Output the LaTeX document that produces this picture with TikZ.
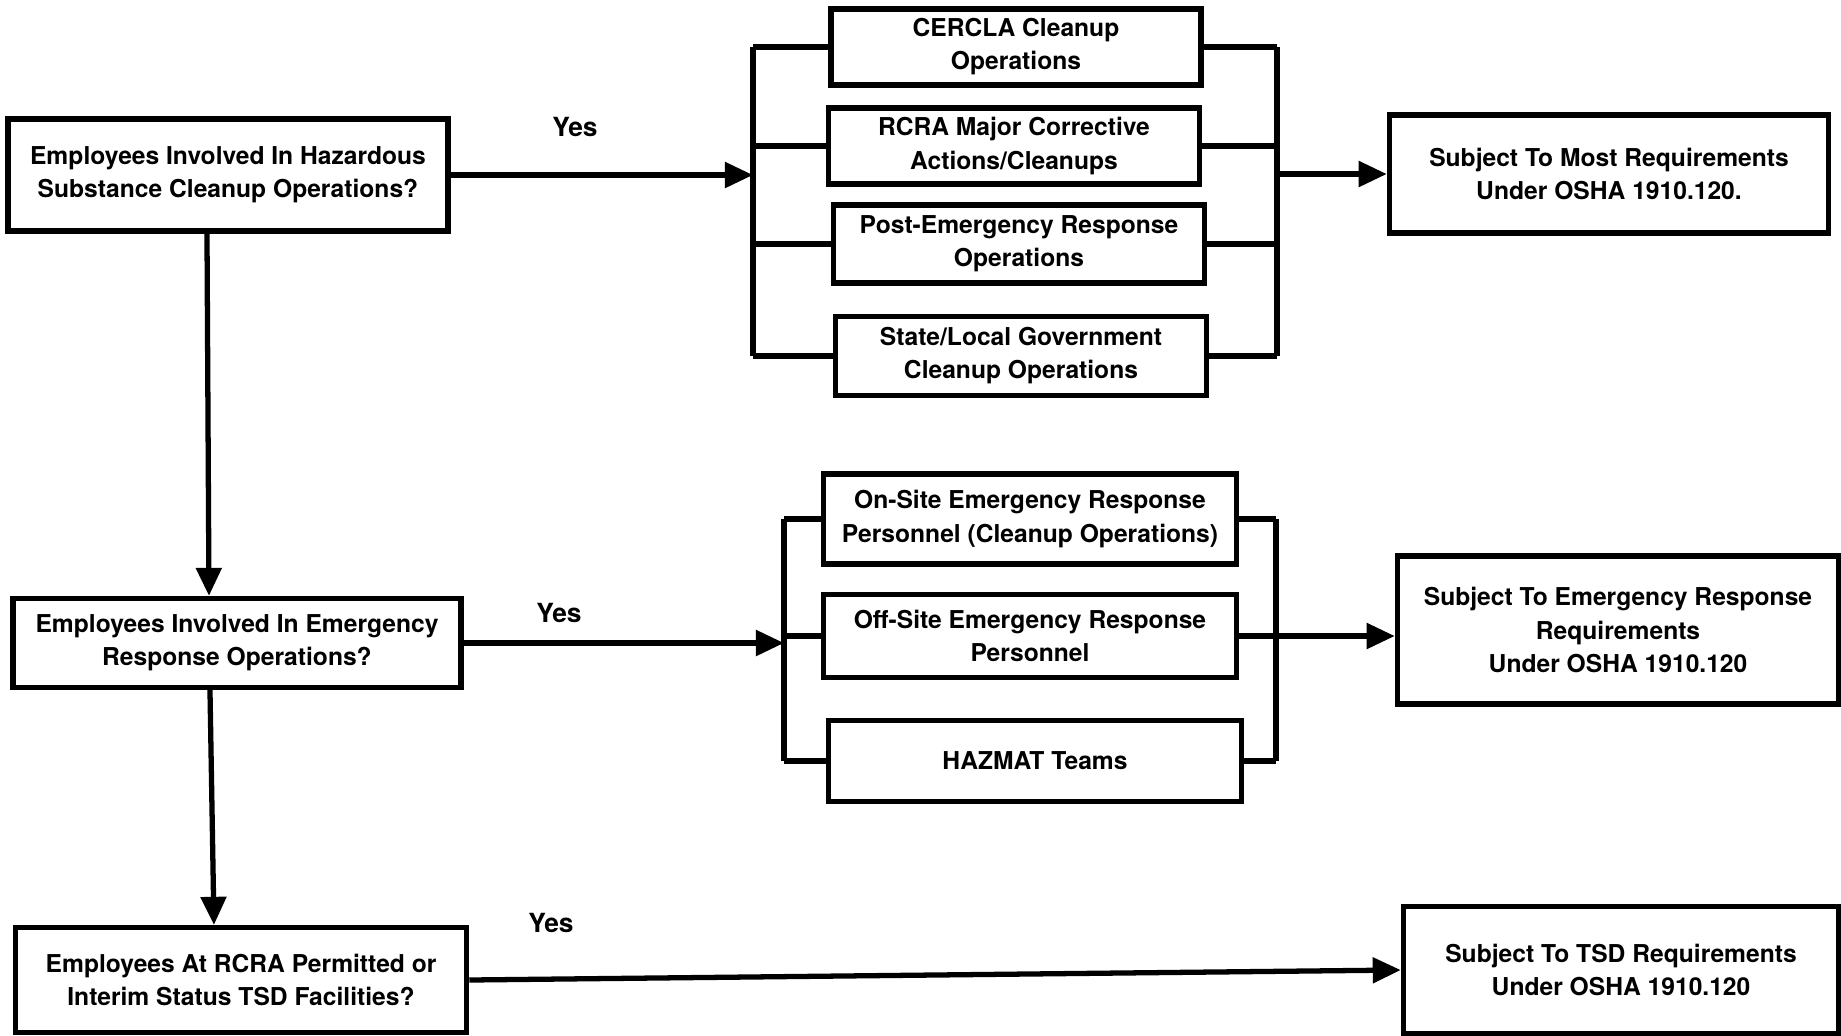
\documentclass[tikz,border=0pt]{standalone}
\usepackage{fontspec}
\setmainfont{TeX Gyre Heros}
\usetikzlibrary{arrows.meta,calc}
\tikzset{
	qbox/.style={draw, line width=1.5pt, align=center, inner sep=0pt, font=\fontsize{7}{9.4}\selectfont\bfseries},
	wire/.style={line width=1.5pt},
	flow/.style={line width=1.5pt, -{Triangle[length=2.8mm,width=2.5mm]}},
	yeslbl/.style={font=\fontsize{7.5}{9}\selectfont\bfseries}
}

\begin{document}
\begin{tikzpicture}[x=0.01cm, y=-0.01cm]
			%%%%% START %%%%%
			\useasboundingbox (0, 0) rectangle (1841, 1035);
			
			% questions
			\node[qbox, minimum width=4.40cm, minimum height=1.12cm] (hazq) at (228, 175) {Employees Involved In Hazardous\\Substance Cleanup Operations?};
			\node[qbox, minimum width=4.48cm, minimum height=0.89cm] (emerq) at (237, 643) {Employees Involved In Emergency\\Response Operations?};
			\node[qbox, minimum width=4.51cm, minimum height=1.05cm] (tsdq) at (241, 980) {Employees At RCRA Permitted or\\Interim Status TSD Facilities?};
			
			\draw[flow] ([xshift=-0.21cm]hazq.south) -- ([xshift=-0.28cm]emerq.north);
			\draw[flow] ([xshift=-0.27cm]emerq.south) -- ([xshift=-0.27cm]tsdq.north);
			
			% cleanup operations
			\node[qbox, minimum width=3.70cm, minimum height=0.76cm] (cercla) at (1016, 47) {CERCLA Cleanup\\Operations};
			\node[qbox, minimum width=3.71cm, minimum height=0.76cm] (rcra) at (1014, 146) {RCRA Major Corrective\\Actions/Cleanups};
			\node[qbox, minimum width=3.71cm, minimum height=0.78cm] (postem) at (1019, 244) {Post-Emergency Response\\Operations};
			\node[qbox, minimum width=3.71cm, minimum height=0.79cm] (stategov) at (1021, 356) {State/Local Government\\Cleanup Operations};
			\node[qbox, minimum width=4.39cm, minimum height=1.18cm] (mostreq) at (1609, 174) {Subject To Most Requirements\\Under OSHA 1910.120.};
			
			\coordinate (cleanL) at (753, 47);
			\coordinate (cleanR) at (1277, 47);
			\draw[wire] (cleanL) -- (cleanL |- stategov.west);
			\draw[wire] (cleanR) -- (cleanR |- stategov.east);
			\foreach \b in {cercla, rcra, postem, stategov} {
				\draw[wire] (\b.west) -- (\b.west -| cleanL);
				\draw[wire] (\b.east) -- (\b.east -| cleanR);
			}
			\draw[flow] (hazq.east) -- (hazq.east -| cleanL);
			\draw[flow] (cleanR |- mostreq.west) -- (mostreq.west);
			\node[yeslbl] (yes1) at (575, 127) {Yes};
			
			% emergency response
			\node[qbox, minimum width=4.13cm, minimum height=0.90cm] (onsite) at (1030, 519) {On-Site Emergency Response\\Personnel (Cleanup Operations)};
			\node[qbox, minimum width=4.13cm, minimum height=0.83cm] (offsite) at (1030, 636) {Off-Site Emergency Response\\Personnel};
			\node[qbox, minimum width=4.13cm, minimum height=0.81cm] (hazmat) at (1035, 761) {HAZMAT Teams};
			\node[qbox, minimum width=4.41cm, minimum height=1.48cm] (emreq) at (1618, 630) {Subject To Emergency Response\\Requirements\\Under OSHA 1910.120};
			
			\coordinate (emL) at (784, 519);
			\coordinate (emR) at (1276, 519);
			\draw[wire] (emL) -- (emL |- hazmat.west);
			\draw[wire] (emR) -- (emR |- hazmat.east);
			\foreach \b in {onsite, offsite, hazmat} {
				\draw[wire] (\b.west) -- (\b.west -| emL);
			}
			\draw[wire] (onsite.east) -- (onsite.east -| emR);
			\draw[wire] (hazmat.east) -- (hazmat.east -| emR);
			\draw[flow] (emerq.east) -- (emerq.east -| emL);
			\draw[flow] (offsite.east) -- (offsite.east -| emreq.west);
			\node[yeslbl] (yes2) at (559, 613) {Yes};
			
			% tsd facilities
			\node[qbox, minimum width=4.35cm, minimum height=1.27cm] (tsdreq) at (1621, 970) {Subject To TSD Requirements\\Under OSHA 1910.120};
			\draw[flow] (tsdq.east) -- (tsdreq.west);
			\node[yeslbl] (yes3) at (551, 923) {Yes};
			
			%%%%% END %%%%%
		\end{tikzpicture}
\end{document}
